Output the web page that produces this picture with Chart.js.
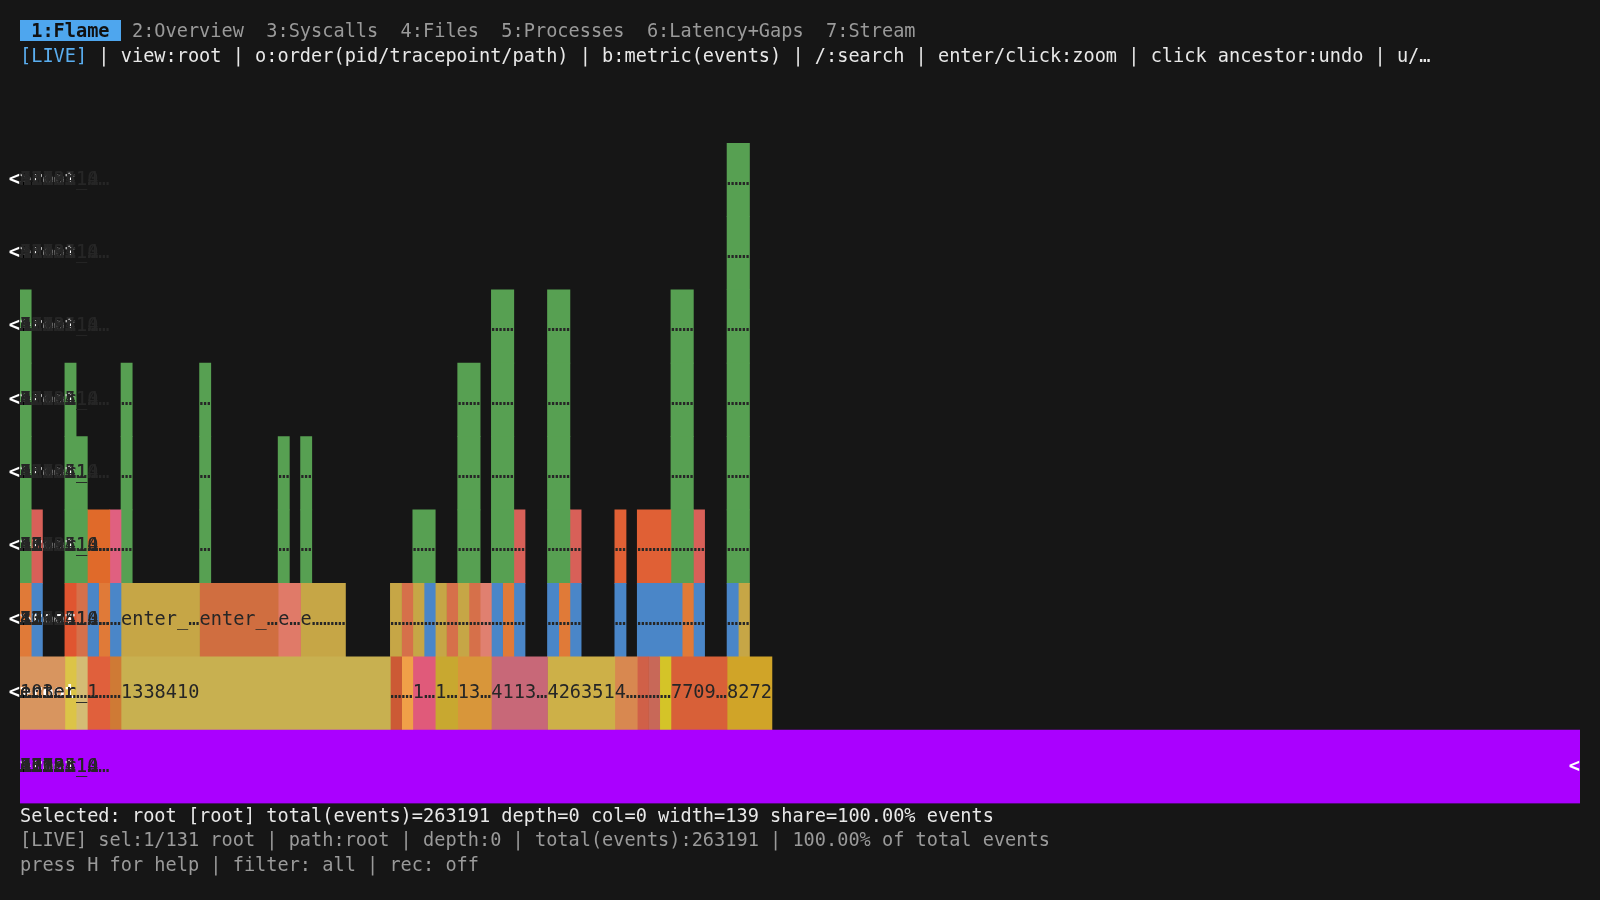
<!DOCTYPE html>
<html>
<head>
<meta charset="utf-8">
<script src="https://cdn.jsdelivr.net/npm/chart.js@4"></script>
<style>
  html, body { margin: 0; background: #161616; width: 1600px; height: 900px; overflow: hidden; }
  #wrap { position: absolute; left: 0; top: 0; width: 1600px; height: 900px; }
  .line { position: absolute; left: 20px; font: 18.6px "DejaVu Sans Mono", monospace; white-space: pre; color: #e8e8e8; }
  .dim { color: #9a9a9a; }
  .tab { color: #9a9a9a; }
  .tab.on { background: #4ea6ee; color: #111; font-weight: bold; }
  .live { color: #5aaef0; }
</style>
</head>
<body>
<div id="wrap"><canvas id="flame" width="1600" height="900"></canvas></div>
<div class="line" style="top:20px"><span class="tab on"> 1:Flame </span><span class="tab"> 2:Overview  3:Syscalls  4:Files  5:Processes  6:Latency+Gaps  7:Stream</span></div>
<div class="line" style="top:45px"><span class="live">[LIVE]</span> | view:root | o:order(pid/tracepoint/path) | b:metric(events) | /:search | enter/click:zoom | click ancestor:undo | u/…</div>
<div class="line" style="top:805px">Selected: root [root] total(events)=263191 depth=0 col=0 width=139 share=100.00% events</div>
<div class="line dim" style="top:829px">[LIVE] sel:1/131 root | path:root | depth:0 | total(events):263191 | 100.00% of total events</div>
<div class="line dim" style="top:854px">press H for help | filter: all | rec: off</div>
<script>
'use strict';

const totalCols = 139;
const depthLabels = ["8", "7", "6", "5", "4", "3", "2", "1", "0"];

// frames per depth: [startCol, endCol, label]
const depth0 = [[0, 139, ">root"]];
const depth1 = [
    [0, 4, "103…"], [4, 5, ""], [5, 6, ""], [6, 8, "1…"], [8, 9, ""], [9, 33, "1338410"],
    [33, 34, ""], [34, 35, ""], [35, 37, "1…"], [37, 39, "1…"], [39, 42, "13…"], [42, 47, "4113…"],
    [47, 53, "4263514…"], [53, 55, "-"], [55, 56, ""], [56, 57, ""], [57, 58, ""], [58, 63, "7709…"], [63, 67, "8272"],
];
const depth2 = [
    [0, 1, ""], [1, 2, ""], [4, 5, ""], [5, 6, ""], [6, 7, ""], [7, 8, ""], [8, 9, ""],
    [9, 16, "enter_…"], [16, 23, "enter_…"], [23, 25, "e…"], [25, 29, "e………"],
    [33, 34, ""], [34, 35, ""], [35, 36, ""], [36, 37, ""], [37, 38, ""], [38, 39, ""], [39, 40, ""],
    [40, 41, ""], [41, 42, ""], [42, 43, ""], [43, 44, ""], [44, 45, ""],
    [47, 48, ""], [48, 49, ""], [49, 50, ""], [53, 54, ""], [55, 59, ""], [59, 60, ""], [60, 61, ""],
    [63, 64, ""], [64, 65, ""],
];
const depth3 = [
    [0, 1, ""], [1, 2, ""], [4, 6, ""], [6, 8, ""], [8, 9, ""], [9, 10, ""], [16, 17, ""], [23, 24, ""], [25, 26, ""],
    [35, 37, ""], [39, 41, ""], [42, 44, ""], [44, 45, ""], [47, 49, ""], [49, 50, ""], [53, 54, ""], [55, 58, ""],
    [58, 60, ""], [60, 61, ""], [63, 65, ""],
];
const depth4 = [[0, 1, ""], [4, 6, ""], [9, 10, ""], [16, 17, ""], [23, 24, ""], [25, 26, ""], [39, 41, ""], [42, 44, ""], [47, 49, ""], [58, 60, ""], [63, 65, ""]];
const depth5 = [[0, 1, ""], [4, 5, ""], [9, 10, ""], [16, 17, ""], [39, 41, ""], [42, 44, ""], [47, 49, ""], [58, 60, ""], [63, 65, ""]];
const depth6 = [[0, 1, ""], [42, 44, ""], [47, 49, ""], [58, 60, ""], [63, 65, ""]];
const depth7 = [[63, 65, ""]];
const depth8 = [[63, 65, ""]];

const green = "#57a052", blue = "#4a86c8", orange = "#e07a38", ochre = "#c6a646", rust = "#d6704a", red = "#d86058";
const depthColors = [
    ["#aa00ff"],
    ["#d8955f", "#dcc447", "#d4bc74", "#e0603c", "#cf7a35", "#c8b050", "#cc5a35", "#f0a048", "#e05a7a", "#c8a830",
     "#d8963a", "#c86878", "#cdb048", "#d88850", "#d06048", "#c86858", "#d4c428", "#d86038", "#d0a428"],
    [orange, blue, "#e05530", rust, blue, orange, blue, ochre, "#d06e40", "#e07a68", ochre,
     ochre, rust, ochre, blue, ochre, rust, ochre, rust, "#e08070", blue, orange, blue,
     blue, orange, blue, blue, blue, orange, blue, blue, ochre],
    [green, red, green, "#e06a2a", "#e06080", green, green, green, green,
     green, green, green, red, green, red, "#e06035", "#e06035", green, red, green],
];
const allDepths = [depth0, depth1, depth2, depth3, depth4, depth5, depth6, depth7, depth8];

const datasets = [];
allDepths.forEach((frames, d) => {
    frames.forEach((f, i) => {
        const row = new Array(depthLabels.length).fill(null);
        row[8 - d] = [f[0], f[1]];
        const colors = depthColors[d];
        datasets.push({
            data: row,
            frameLabel: f[2],
            frameWidth: f[1] - f[0],
            isRoot: d === 0,
            backgroundColor: colors ? colors[i] : green,
            borderWidth: 0,
            barPercentage: 1,
            categoryPercentage: 1,
            grouped: false,
        });
    });
});

const frameText = {
    id: "frameText",
    afterDatasetsDraw(chart) {
        const c = chart.ctx;
        c.save();
        c.font = "18.6px 'DejaVu Sans Mono', monospace";
        c.textBaseline = "middle";
        chart.data.datasets.forEach((ds, i) => {
            const meta = chart.getDatasetMeta(i);
            meta.data.forEach((bar) => {
                if (!bar || bar.skip) return;
                const left = Math.min(bar.x, bar.base);
                const right = Math.max(bar.x, bar.base);
                let txt = ds.frameLabel;
                if (txt === "-") return;
                if (txt === "") txt = "…".repeat(ds.frameWidth);
                if (ds.isRoot) {
                    c.font = "bold 18.6px 'DejaVu Sans Mono', monospace";
                    c.fillStyle = "#ffffff";
                    c.textAlign = "left";
                    c.fillText(txt, left, bar.y);
                    c.textAlign = "right";
                    c.fillText("<", right, bar.y);
                    c.font = "18.6px 'DejaVu Sans Mono', monospace";
                    return;
                }
                c.fillStyle = "#262626";
                c.textAlign = "left";
                c.fillText(txt, left, bar.y);
            });
        });
        c.restore();
    },
};

new Chart(document.getElementById("flame").getContext("2d"), {
    type: "bar",
    data: { labels: depthLabels, datasets: datasets },
    options: {
        indexAxis: "y",
        responsive: false,
        animation: false,
        layout: { padding: { left: 20, right: 20, top: 143, bottom: 96.5 } },
        scales: {
            x: { type: "linear", min: 0, max: totalCols, display: false },
            y: { display: false, stacked: false },
        },
        plugins: { legend: { display: false }, tooltip: { enabled: false } },
    },
    plugins: [frameText],
});
</script>
</body>
</html>
